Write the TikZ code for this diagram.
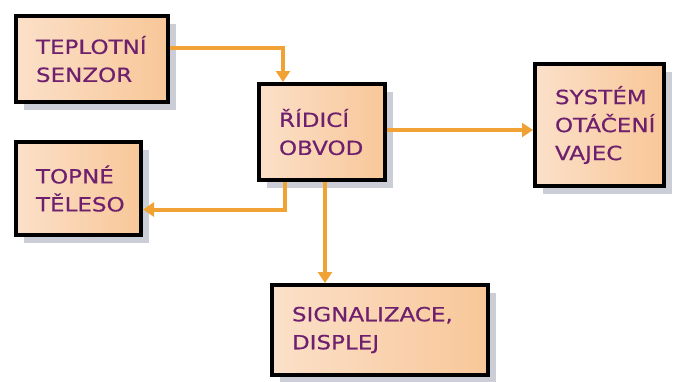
\documentclass[tikz,border=0pt]{standalone}
\usepackage{fontspec}
\newfontfamily\blokfont[FakeStretch=1.18,FakeBold=0.5]{DejaVu Sans}
\usetikzlibrary{positioning,arrows.meta,shadows}
\definecolor{textfialova}{RGB}{110,32,110}
\definecolor{broskevL}{RGB}{251,224,201}
\definecolor{broskevR}{RGB}{248,199,152}
\definecolor{oranzova}{RGB}{240,162,52}
\definecolor{stin}{RGB}{203,206,214}
\hyphenpenalty=10000
\tikzset{
>={Triangle[length=11pt,width=14pt]},
  blok/.style={
    rectangle,
    draw=black, line width=4pt,
    left color=broskevL, right color=broskevR,
    general shadow={fill=stin, shadow xshift=8pt, shadow yshift=-8pt},
    inner xsep=20pt,
    align=left,
    font=\blokfont\fontsize{19.5}{28}\selectfont,
    text=textfialova},
  sipka/.style={draw=oranzova, line width=4pt, ->},
}
\begin{document}
\begin{tikzpicture}
	\useasboundingbox (0,0) rectangle (676pt,-381pt);
		\node[blok, text width=112pt, minimum height=86pt] (senzor) at (92pt,-59pt) {TEPLOTNÍ\\SENZOR};
		\node[blok, text width=86pt, minimum height=96pt, below right=68pt and 87pt of senzor.north east] (ridici) {ŘÍDICÍ\\OBVOD};
		\node[blok, text width=89pt, minimum height=122pt, right=146pt of ridici, yshift=7pt] (otaceni) {SYSTÉM\\OTÁČENÍ\\VAJEC};
		\node[blok, text width=85pt, minimum height=93pt, below=36pt of senzor.south west, anchor=north west] (topeni) {TOPNÉ\\TĚLESO};
		\node[blok, text width=176pt, minimum height=90pt, below right=101pt and 13pt of ridici.south west] (displej) {SIGNALIZACE,\\DISPLEJ};
		% spoje
		\draw[sipka] ([yshift=11pt]senzor.east) -| ([xshift=-39pt]ridici.north);
		\draw[sipka] ([yshift=2pt]ridici.east) -- ([yshift=2pt]ridici.east -| otaceni.west);
		\draw[sipka] ([xshift=-37pt]ridici.south) |- ([yshift=-21pt]topeni.east);
		\draw[sipka] ([xshift=3pt]ridici.south) -- ([xshift=3pt]ridici.south |- displej.north);
	\end{tikzpicture}
\end{document}
